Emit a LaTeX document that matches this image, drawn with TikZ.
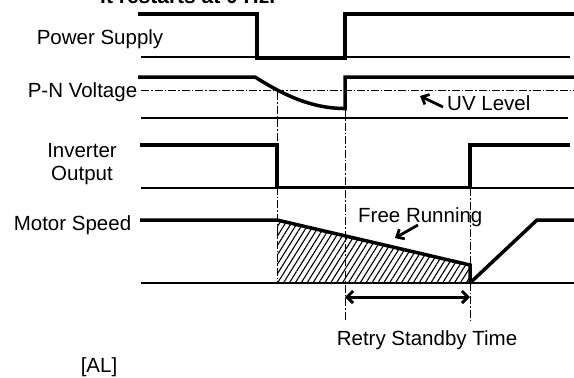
\documentclass[tikz,border=0pt]{standalone}
\usepackage{fontspec}
\setmainfont{Liberation Sans}
\usetikzlibrary{arrows.meta,patterns.meta}
\begin{document}
\begin{tikzpicture}[x=1pt,y=-1pt,
  sig/.style={line width=3.5pt,line join=miter,line cap=butt},
  base/.style={line width=1.2pt},
  guide/.style={line width=0.9pt,dash pattern=on 8pt off 2pt on 1.5pt off 2pt},
  lbl/.style={font=\fontsize{20.5}{22}\selectfont,anchor=base,inner sep=0pt},
  pointer/.style={line width=2.8pt,-{Straight Barb[length=6pt,width=11pt]}},
  dim/.style={line width=3pt,{Straight Barb[length=6pt,width=12pt]}-{Straight Barb[length=6pt,width=12pt]}}]
\useasboundingbox (0,0) rectangle (574,378);
% title (cut off at top, as in the reference)
\node[font=\bfseries\fontsize{21}{22}\selectfont,anchor=base west,inner sep=0pt] (title) at (100,3.5) {it restarts at 0 Hz.};
% labels
\node[lbl] (ps) at (100,44) {Power Supply};
\node[lbl] (pn) at (82.5,97) {P-N Voltage};
\node[lbl] (inv) at (82,157) {Inverter};
\node[lbl] (out) at (82,180) {Output};
\node[lbl] (ms) at (72.5,230) {Motor Speed};
\node[lbl,anchor=base west] (uv) at (447,110) {UV Level};
\node[lbl,anchor=base west] (fr) at (358,222) {Free Running};
\node[lbl] (rst) at (427,345) {Retry Standby Time};
\node[lbl] (al) at (99,372) {[AL]};
% hatch
\fill[pattern={Lines[angle=58,distance=5pt,line width=1.1pt]}] (277,220) -- (470,265) -- (470,283) -- (277,283) -- cycle;
% guides
\draw[guide] (141,90) -- (574,90);
\draw[guide] (277,92) -- (277,283);
\draw[guide] (345,109) -- (345,321);
\draw[guide] (470,188) -- (470,321);
% baselines
\draw[base] (141,57) -- (570,57);
\draw[base] (141,118) -- (568,118);
\draw[base] (141,188) -- (574,188);
\draw[base] (141,283) -- (574,283);
% signals
\draw[sig] (138,14) -- (257,14) -- (257,58) -- (345,58) -- (345,14) -- (574,14);
\draw[sig] (138,77) -- (255,77) .. controls (285,96) and (312,108) .. (343,108.5) -- (345,108.5) -- (345,77) -- (574,77);
\draw[sig] (140,145) -- (277,145) -- (277,187.5) -- (470,187.5) -- (470,145) -- (570,145);
\draw[sig] (140,220) -- (277,220) -- (470,265) -- (470,283);
\draw[sig] (470,283) -- (537,220) -- (574,220);
% pointers
\coordinate (uvt) at (443,107);
\coordinate (uvh) at (420,96);
\draw[pointer] (uvt) -- (uvh);
\coordinate (frt) at (418,225);
\coordinate (frh) at (395,238);
\draw[pointer] (frt) -- (frh);
\coordinate (d1) at (345,297);
\coordinate (d2) at (470,297);
\draw[dim] (d1) -- (d2);
\end{tikzpicture}
\end{document}
